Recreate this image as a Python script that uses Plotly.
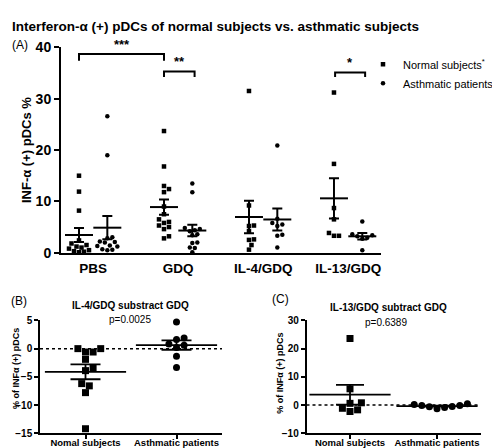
import numpy as np
import plotly.graph_objects as go

W, H = 500, 448

# ---------------- data ----------------
categories = ["PBS", "GDQ", "IL-4/GDQ", "IL-13/GDQ"]

pbs_normal = [15.0, 11.9, 8.2, 2.4, 1.8, 1.5, 1.2, 1.0, 0.8, 0.5, 0.3, 0.2, 0.1]
pbs_asthma = [26.6, 19.0, 3.0, 2.8, 2.2, 2.1, 2.0, 1.4, 1.3, 1.2, 0.7, 0.6, 0.5]
gdq_normal = [23.7, 16.8, 13.0, 12.4, 11.8, 9.0, 7.5, 6.5, 6.0, 5.8, 5.3, 5.0, 4.6, 3.2, 2.8]
gdq_asthma = [13.5, 11.8, 4.8, 4.6, 4.4, 4.2, 3.6, 3.4, 2.0, 1.9, 1.0, 0.9, 0.1]
il4_normal = [31.5, 9.2, 5.3, 5.2, 4.2, 2.6, 2.5, 1.5, 0.6]
il4_asthma = [20.9, 6.6, 5.8, 5.5, 5.2, 3.5, 3.3, 1.0]
il13_normal = [31.2, 17.3, 8.7, 6.5, 3.85, 3.3, 3.3]
il13_asthma = [6.1, 3.6, 3.4, 3.2, 2.9, 2.7, 0.5]

sub_labels = ["Nomal subjects", "Asthmatic patients"]
il4_sub_normal = [0.0, 0.0, -0.6, -0.6, -1.9, -3.4, -3.9, -6.2, -6.6, -7.8, -14.2]
il4_sub_asthma = [4.7, 1.9, 1.6, 0.8, 0.6, 0.2, -1.35, -3.35]
il13_sub_normal = [23.6, 5.75, 0.8, 0.6, -1.15, -1.7, -2.3]
il13_sub_asthma = [-1.3, -0.9, 0.2, 0.5, -0.5, -0.6, -0.2, -0.2]

p_il4 = "p=0.0025"
p_il13 = "p=0.6389"

FONT = "Arial, Liberation Sans, sans-serif"


def px(x):
    return x / W


def py(y):
    return 1 - y / H


def swarm(vals, ppu_y, ppu_x, d):
    """Deterministic beeswarm offsets (in x data units)."""
    vals = np.asarray(vals, float)
    order = np.argsort(vals)
    placed = []
    offs = np.zeros(len(vals))
    for i in order:
        yp = vals[i] * ppu_y
        cands = [0.0]
        for j in range(1, 12):
            cands += [j * d / 2, -j * d / 2]
        for c in cands:
            ok = True
            for (ox, oy) in placed:
                if (ox - c) ** 2 + (oy - yp) ** 2 < (d * 0.98) ** 2:
                    ok = False
                    break
            if ok:
                offs[i] = c / ppu_x
                placed.append((c, yp))
                break
    return offs


def mean_sem(v):
    v = np.asarray(v, float)
    return v.mean(), v.std(ddof=1) / np.sqrt(len(v))


fig = go.Figure()

# ---------------- panel A ----------------
ppu_y_A = 213 / 40.0
ppu_x_A = 28.33
groupsN = [pbs_normal, gdq_normal, il4_normal, il13_normal]
groupsA = [pbs_asthma, gdq_asthma, il4_asthma, il13_asthma]

xN, yN, xA, yA = [], [], [], []
for g, (n, a) in enumerate(zip(groupsN, groupsA)):
    on = swarm(n, ppu_y_A, ppu_x_A, 5.0)
    oa = swarm(a, ppu_y_A, ppu_x_A, 5.0)
    xN += list(3 * g + on)
    yN += list(n)
    xA += list(3 * g + 1 + oa)
    yA += list(a)

fig.add_trace(go.Scatter(x=xN, y=yN, mode="markers", name="Normal subjects<sup>*</sup>",
                         marker=dict(symbol="square", size=4.5, color="black"),
                         xaxis="x", yaxis="y", cliponaxis=False))
fig.add_trace(go.Scatter(x=xA, y=yA, mode="markers", name="Asthmatic patients",
                         marker=dict(symbol="circle", size=4.5, color="black"),
                         xaxis="x", yaxis="y", cliponaxis=False))

mx, my, ms = [], [], []
for g, (n, a) in enumerate(zip(groupsN, groupsA)):
    for k, v in enumerate([n, a]):
        m, s = mean_sem(v)
        mx.append(3 * g + k)
        my.append(m)
        ms.append(s)
fig.add_trace(go.Scatter(x=mx, y=my, mode="markers", showlegend=False,
                         marker=dict(symbol="line-ew", size=20, color="black",
                                     line=dict(width=2, color="black")),
                         error_y=dict(type="data", array=ms, visible=True,
                                      thickness=2, width=5, color="black"),
                         xaxis="x", yaxis="y", cliponaxis=False))

# ---------------- panel B ----------------
ppu_y_B = 117 / 20.0
ppu_x_B = 91.0
oBn = swarm(il4_sub_normal, ppu_y_B, ppu_x_B, 7.6)
oBa = swarm(il4_sub_asthma, ppu_y_B, ppu_x_B, 7.6)
fig.add_trace(go.Scatter(x=list(0 + oBn), y=il4_sub_normal, mode="markers", showlegend=False,
                         marker=dict(symbol="square", size=7, color="black"),
                         xaxis="x2", yaxis="y2", cliponaxis=False))
fig.add_trace(go.Scatter(x=list(1 + oBa), y=il4_sub_asthma, mode="markers", showlegend=False,
                         marker=dict(symbol="circle", size=7, color="black"),
                         xaxis="x2", yaxis="y2", cliponaxis=False))
bm = [mean_sem(il4_sub_normal), mean_sem(il4_sub_asthma)]
fig.add_trace(go.Scatter(x=[0, 1], y=[b[0] for b in bm], mode="markers", showlegend=False,
                         marker=dict(symbol="line-ew", size=58, color="black",
                                     line=dict(width=1.8, color="black")),
                         error_y=dict(type="data", array=[b[1] for b in bm], visible=True,
                                      thickness=1.8, width=15, color="black"),
                         xaxis="x2", yaxis="y2", cliponaxis=False))

# ---------------- panel C ----------------
ppu_y_C = 117 / 40.0
ppu_x_C = 87.0
oCn = swarm(il13_sub_normal, ppu_y_C, ppu_x_C, 7.6)
oCa = swarm(il13_sub_asthma, ppu_y_C, ppu_x_C, 7.6)
fig.add_trace(go.Scatter(x=list(0 + oCn), y=il13_sub_normal, mode="markers", showlegend=False,
                         marker=dict(symbol="square", size=7, color="black"),
                         xaxis="x3", yaxis="y3", cliponaxis=False))
fig.add_trace(go.Scatter(x=list(1 + oCa), y=il13_sub_asthma, mode="markers", showlegend=False,
                         marker=dict(symbol="circle", size=7, color="black"),
                         xaxis="x3", yaxis="y3", cliponaxis=False))
cm = [mean_sem(il13_sub_normal), mean_sem(il13_sub_asthma)]
fig.add_trace(go.Scatter(x=[0, 1], y=[c[0] for c in cm], mode="markers", showlegend=False,
                         marker=dict(symbol="line-ew", size=58, color="black",
                                     line=dict(width=1.8, color="black")),
                         error_y=dict(type="data", array=[c[1] for c in cm], visible=True,
                                      thickness=1.8, width=14, color="black"),
                         xaxis="x3", yaxis="y3", cliponaxis=False))

# ---------------- axes ----------------
axcommon = dict(showgrid=False, zeroline=False, showline=True, linecolor="black",
                color="black", fixedrange=True)

fig.update_layout(
    width=W, height=H, margin=dict(l=0, r=0, t=0, b=0),
    paper_bgcolor="white", plot_bgcolor="white",
    font=dict(family=FONT, color="black"),
    xaxis=dict(domain=[px(53), px(373)], range=[-18 / ppu_x_A, 320 / ppu_x_A - 18 / ppu_x_A],
               anchor="y", tickvals=[0.5, 3.5, 6.5, 9.5], ticktext=categories,
               ticks="", linewidth=2, ticklabelstandoff=2,
               tickfont=dict(size=13.5, weight="bold"), **axcommon),
    yaxis=dict(domain=[py(245.5), py(32.5)], range=[0, 40], anchor="x",
               tickvals=[0, 10, 20, 30, 40], ticks="outside", ticklen=5, tickwidth=2,
               linewidth=2, tickfont=dict(size=14, weight="bold"), **axcommon),
    xaxis2=dict(domain=[px(32), px(214)], range=[-0.5, 1.5], anchor="y2",
                tickvals=[0, 1], ticktext=sub_labels, ticks="outside", ticklen=4,
                tickwidth=1.5, linewidth=1.5, ticklabelstandoff=-4,
                tickfont=dict(size=9.5, weight="bold"), **axcommon),
    yaxis2=dict(domain=[py(432.7), py(315.7)], range=[-15, 5], anchor="x2",
                tickvals=[-15, -10, -5, 0, 5], ticks="outside", ticklen=4, tickwidth=1.5,
                linewidth=1.5, tickfont=dict(size=10, weight="bold"), **axcommon),
    xaxis3=dict(domain=[px(298.5), px(472.5)], range=[-0.5, 1.5], anchor="y3",
                tickvals=[0, 1], ticktext=sub_labels, ticks="outside", ticklen=4,
                tickwidth=1.5, linewidth=1.5, ticklabelstandoff=-4,
                tickfont=dict(size=9.5, weight="bold"), **axcommon),
    yaxis3=dict(domain=[py(432.7), py(315.7)], range=[-10, 30], anchor="x3",
                tickvals=[-10, 0, 10, 20, 30], ticks="outside", ticklen=4, tickwidth=1.5,
                linewidth=1.5, tickfont=dict(size=10, weight="bold"), **axcommon),
    legend=dict(x=px(355), y=py(35), xanchor="left", yanchor="top",
                font=dict(size=11, family=FONT), itemwidth=30, tracegroupgap=0,
                bgcolor="rgba(0,0,0,0)"),
    showlegend=True,
)

# ---------------- brackets & zero lines ----------------
shapes = []
def bracket(x0, x1, ytop, ybot, xref="x", yref="y"):
    return dict(type="path", xref=xref, yref=yref,
                path=f"M {x0},{ybot} L {x0},{ytop} L {x1},{ytop} L {x1},{ybot}",
                line=dict(color="black", width=2))

shapes.append(bracket(0, 3, 38.7, 37.4))
shapes.append(bracket(3, 4.08, 35.3, 34.2))
shapes.append(bracket(9.04, 10.1, 35.1, 34.2))
shapes.append(dict(type="line", xref="x2 domain", yref="y2", x0=0, x1=1, y0=0, y1=0,
                   line=dict(color="black", width=1.5, dash="dot")))
shapes.append(dict(type="line", xref="x3 domain", yref="y3", x0=0, x1=1, y0=0, y1=0,
                   line=dict(color="black", width=1.5, dash="dot")))
fig.update_layout(shapes=shapes)

ann = []
def A(text, x, y, size, bold=False, angle=0, xanchor="center", yanchor="middle", **kw):
    ann.append(dict(text=f"<b>{text}</b>" if bold else text, x=x, y=y, showarrow=False,
                    textangle=angle, xanchor=xanchor, yanchor=yanchor,
                    font=dict(size=size, family=FONT, color="black"), **kw))

A("Interferon-α (+) pDCs of normal subjects vs. asthmatic subjects", px(2), py(11), 13.5,
  bold=True, xanchor="left", xref="paper", yref="paper")
A("(A)", px(2), py(30), 12, xanchor="left", xref="paper", yref="paper")
A("(B)", px(1), py(296), 12, xanchor="left", xref="paper", yref="paper")
A("(C)", px(262), py(293), 12, xanchor="left", xref="paper", yref="paper")
A("INF-α (+) pDCs %", px(18), py(139), 13, bold=True, angle=-90, xref="paper", yref="paper")
A("% of INFα (+) pDCs", px(8), py(366), 9, bold=True, angle=-90, xref="paper", yref="paper")
A("% of INFα (+) pDCs", px(272), py(371), 9, bold=True, angle=-90, xref="paper", yref="paper")
A("IL-4/GDQ substract GDQ", px(122), py(300), 10, bold=True, xref="paper", yref="paper")
A("IL-13/GDQ subtract GDQ", px(380), py(302), 10, bold=True, xref="paper", yref="paper")
A(p_il4, px(122), py(315), 10, xref="paper", yref="paper")
A(p_il13, px(378), py(318), 10, xref="paper", yref="paper")
A("***", 1.5, 38.7, 13, bold=True, yanchor="bottom", xref="x", yref="y")
A("**", 3.54, 35.3, 13, bold=True, yanchor="bottom", xref="x", yref="y")
A("*", 9.57, 35.1, 13, bold=True, yanchor="bottom", xref="x", yref="y")
fig.update_layout(annotations=ann)

fig.write_html("out.html")
